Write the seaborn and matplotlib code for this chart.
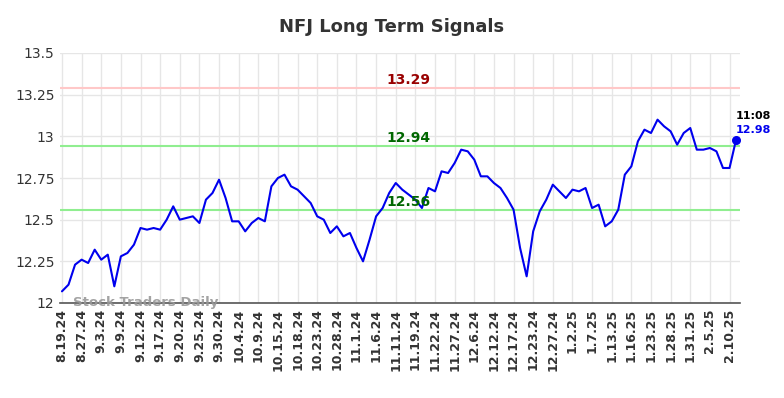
import matplotlib
matplotlib.use("Agg")
import matplotlib.pyplot as plt
import seaborn as sns
import pandas as pd
import numpy as np

prices = [12.07, 12.11, 12.23, 12.26, 12.24, 12.32, 12.26, 12.29, 12.10, 12.28,
          12.30, 12.35, 12.45, 12.44, 12.45, 12.44, 12.50, 12.58, 12.50, 12.51,
          12.52, 12.48, 12.62, 12.66, 12.74, 12.63, 12.49, 12.49, 12.43, 12.48,
          12.51, 12.49, 12.70, 12.75, 12.77, 12.70, 12.68, 12.64, 12.60, 12.52,
          12.50, 12.42, 12.46, 12.40, 12.42, 12.33, 12.25, 12.38, 12.52, 12.57,
          12.66, 12.72, 12.68, 12.65, 12.62, 12.57, 12.69, 12.67, 12.79, 12.78,
          12.84, 12.92, 12.91, 12.86, 12.76, 12.76, 12.72, 12.69, 12.63, 12.56,
          12.33, 12.16, 12.43, 12.55, 12.62, 12.71, 12.67, 12.63, 12.68, 12.67,
          12.69, 12.57, 12.59, 12.46, 12.49, 12.56, 12.77, 12.82, 12.97, 13.04,
          13.02, 13.10, 13.06, 13.03, 12.95, 13.02, 13.05, 12.92, 12.92, 12.93,
          12.91, 12.81, 12.81, 12.98]

tick_labels = ["8.19.24", "8.27.24", "9.3.24", "9.9.24", "9.12.24", "9.17.24",
               "9.20.24", "9.25.24", "9.30.24", "10.4.24", "10.9.24", "10.15.24",
               "10.18.24", "10.23.24", "10.28.24", "11.1.24", "11.6.24", "11.11.24",
               "11.19.24", "11.22.24", "11.27.24", "12.6.24", "12.12.24", "12.17.24",
               "12.23.24", "12.27.24", "1.2.25", "1.7.25", "1.13.25", "1.16.25",
               "1.23.25", "1.28.25", "1.31.25", "2.5.25", "2.10.25"]

resistance = 13.29
support_levels = [12.94, 12.56]
y_ticks = [12, 12.25, 12.5, 12.75, 13, 13.25, 13.5]
y_tick_labels = ["12", "12.25", "12.5", "12.75", "13", "13.25", "13.5"]
last_time = "11:08"

df = pd.DataFrame({"idx": np.arange(len(prices)), "price": prices})

sns.set_theme(style="whitegrid")
plt.rcParams['font.family'] = ['DejaVu Sans']

fig = plt.figure(figsize=(7.84, 3.98), dpi=100)
ax = fig.add_axes([60/784, 1 - 303/398, 680/784, 250/398])

ax.axhline(resistance, color="#ffc8c8", lw=1.5, zorder=1)
for s in support_levels:
    ax.axhline(s, color="#90ee90", lw=1.5, zorder=1)

sns.lineplot(data=df, x="idx", y="price", ax=ax, color="#0000ee", lw=1.5, zorder=3)
ax.scatter([df.idx.iloc[-1]], [prices[-1]], color="#0000ee", s=30, zorder=4)

ax.set_xlim(-0.3, 103.6)
ax.set_ylim(12, 13.5)
ax.set_yticks(y_ticks)
ax.set_yticklabels(y_tick_labels, fontsize=10, color="#333333")
ax.set_xticks(np.arange(0, len(prices), 3)[:len(tick_labels)])
ax.set_xticklabels(tick_labels, rotation=90, fontsize=9, fontweight="bold", color="#333333")
ax.set_xlabel("")
ax.set_ylabel("")
ax.grid(True, color="#e6e6e6", lw=1)
for sp in ["top", "right", "left"]:
    ax.spines[sp].set_visible(False)
ax.spines["bottom"].set_visible(True)
ax.spines["bottom"].set_color("#555555")
ax.spines["bottom"].set_linewidth(1.2)
ax.tick_params(axis="both", length=0, pad=4)

mid = 53
ax.text(mid, resistance + 0.005, f"{resistance:.2f}", color="#990000", fontsize=10,
        fontweight="bold", ha="center", va="bottom")
for s in support_levels:
    ax.text(mid, s + 0.005, f"{s:.2f}", color="#006600", fontsize=10,
            fontweight="bold", ha="center", va="bottom")

ax.text(df.idx.iloc[-1], prices[-1] + 0.11, last_time, color="black", fontsize=8,
        fontweight="bold", ha="left", va="bottom")
ax.text(df.idx.iloc[-1], prices[-1] + 0.03, f"{prices[-1]:.2f}", color="#0000ee", fontsize=8,
        fontweight="bold", ha="left", va="bottom")

ax.text(1.7, 12.005, "Stock Traders Daily", color="#999999", fontsize=9.5,
        fontweight="bold", ha="left", va="center", alpha=0.9)

fig.suptitle("NFJ Long Term Signals", fontsize=13, fontweight="bold", color="#333333", y=0.955)

fig.savefig("out.png", dpi=100)
